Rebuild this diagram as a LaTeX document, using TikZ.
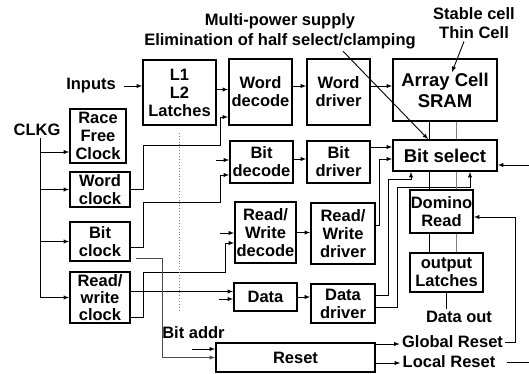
\documentclass[tikz,border=0pt]{standalone}
\usepackage{fontspec}
\setmainfont{Liberation Sans}
\usepackage{tikz}
\usetikzlibrary{positioning}

\begin{document}
\begin{tikzpicture}[>=latex, x=1pt, y=-1pt, line width=0.9pt, inner sep=2pt,
  font=\fontsize{16.5}{18}\selectfont\bfseries,
  blk/.style={draw, line width=1.8pt, inner sep=0pt, align=center},
  big/.style={font=\fontsize{18.5}{21}\selectfont\bfseries}] % pixel grid, y runs down
\useasboundingbox (0,0) rectangle (529,374);

\node (clkg) at (37,130) {CLKG};
\node (inputs) at (91,86) {Inputs};
\node (mps) [align=center, font=\fontsize{16.5}{20}\selectfont\bfseries] at (280,31) {Multi-power supply\\Elimination of half select/clamping};
\node (stab) [align=center, font=\fontsize{16.5}{19}\selectfont\bfseries] at (474,23.5) {Stable cell\\Thin Cell};

\node[blk, minimum width=73pt, minimum height=65pt] (latch) at (179.5,92.5) {L1\\L2\\Latches};
\node[blk, minimum width=56pt, minimum height=54pt] (race) at (98,136) {Race\\Free\\Clock};
\node[blk, minimum width=60pt, minimum height=35pt] (wclk) at (100,189.5) {Word\\clock};
\node[blk, minimum width=60pt, minimum height=39pt] (bclk) at (100,241.5) {Bit\\clock};
\node[blk, minimum width=60pt, minimum height=51pt, font=\fontsize{16.5}{17}\selectfont\bfseries] (rwclk) at (100,297.5) {Read/\\write\\clock};

\node[blk, minimum width=63pt, minimum height=66pt] (wdec) at (260.5,92) {Word\\decode};
\node[blk, minimum width=63pt, minimum height=66pt] (wdrv) at (338.5,92) {Word\\driver};
\node[blk, big, minimum width=104pt, minimum height=62pt] (array) at (445,90) {Array Cell\\SRAM};
\node[blk, minimum width=63pt, minimum height=42pt] (bdec) at (261.5,162) {Bit\\decode};
\node[blk, minimum width=63pt, minimum height=42pt] (bdrv) at (338.5,162) {Bit\\driver};
\node[blk, big, minimum width=104pt, minimum height=31pt] (bsel) at (445,155.5) {Bit select};
\node[blk, minimum width=61pt, minimum height=61pt] (rwdec) at (265.5,232.5) {Read/\\Write\\decode};
\node[blk, minimum width=64pt, minimum height=61pt] (rwdrv) at (343,233.5) {Read/\\Write\\driver};
\node[blk, minimum width=63pt, minimum height=28pt] (data) at (265.5,297) {Data};
\node[blk, minimum width=64pt, minimum height=39pt] (ddrv) at (343,303.5) {Data\\driver};
\node[blk, minimum width=63pt, minimum height=43pt] (domino) at (441.5,211.5) {Domino\\Read};
\node[blk, minimum width=73pt, minimum height=39pt] (olat) at (446.5,272.5) {output\\Latches};
\node[blk, minimum width=159pt, minimum height=29pt] (reset) at (295.5,357.5) {Reset};

\node (dout) at (459,317) {Data out};
\node (greset) at (452.5,342) {Global Reset};
\node (lreset) at (449,362) {Local Reset};
\node (baddr) at (193.5,333) {Bit addr};

\coordinate (edgeB) at (529,165);
\coordinate (edgeL) at (529,362);

% clock tree
\draw[->] ([xshift=3pt]clkg.south) |- ([yshift=-16pt]race.west);
\draw[->] ([xshift=3pt]clkg.south) |- (wclk.west);
\draw[->] ([xshift=3pt]clkg.south) |- (bclk.west);
\draw[->] ([xshift=3pt]clkg.south) |- (rwclk.west);

\draw[->] ([xshift=6pt]inputs.east) -- (inputs.east -| latch.west);
\draw[->] ([yshift=3pt]latch.east) -- ([yshift=3pt]latch.east -| wdec.west);
\draw[->] ([yshift=6pt]wdec.east) -- ([yshift=6pt]wdec.east -| wdrv.west);
\draw[->] ([yshift=6pt]wdrv.east) -- ([yshift=6pt]wdrv.east -| array.west);
\draw[->] (wclk.east) -| (143,145) -| (220,117) -- ([yshift=-25pt]wdec.west);

\draw[<-] ([yshift=2pt]bdec.west) -- ++(-13,0);
\draw[->] ([yshift=-6pt]bclk.east) -| (143,202) -| (220,175) -- ([yshift=-13pt]bdec.west);
\draw[->] ([yshift=3pt]bdec.east) -- ([yshift=3pt]bdec.east -| bdrv.west);
\draw[->] ([yshift=15pt]bdrv.east) -- ([yshift=15pt]bdrv.east -| bsel.west);

\draw[<-] ([yshift=-0.5pt]rwdec.west) -- ++(-14,0);
\draw[->] ([yshift=-20pt]rwclk.east) -| (143,272) -| (225,243) -- ([yshift=-10.5pt]rwdec.west);
\draw[->] (rwdec.east) -- (rwdec.east -| rwdrv.west);
\draw[->] ([yshift=8pt]rwdrv.east) -- ++(4,0) |- ([yshift=-3.5pt]bsel.west);

\draw[->] ([yshift=6pt]rwclk.east) -- ([yshift=6pt]rwclk.east -| data.west);
\draw[<-] ([yshift=-2pt]data.west) -- ++(-14,0);
\draw[->] (data.east) -- (data.east -| ddrv.west);
\draw[->] ([yshift=8.5pt]ddrv.east) -| (388,179) -| ([xshift=-34pt]bsel.south);
\draw[->] ([yshift=-3.5pt]ddrv.east) -| (397,187) -| ([xshift=25pt]bsel.south);

% cell column
\draw ([xshift=-16pt]array.south) -- ([xshift=-16pt]bsel.north);
\draw[gray] ([xshift=11pt]array.south) -- ([xshift=11pt]bsel.north);
\draw ([xshift=-16pt]bsel.south) -- ([xshift=-16pt]bsel.south |- domino.north);
\draw[gray] ([xshift=11pt]bsel.south) -- ([xshift=11pt]bsel.south |- domino.north);
\draw ([xshift=-12.5pt]domino.south) -- ([xshift=-12.5pt]domino.south |- olat.north);
\draw[gray] ([xshift=14.5pt]domino.south) -- ([xshift=14.5pt]domino.south |- olat.north);
\draw (olat.south) -- (olat.south |- dout.north);
\draw[->] (edgeB) -- (edgeB -| bsel.east);

% reset
\draw[->, black!70] ([xshift=5pt,yshift=-16.5pt]bclk.east) -- ++(27,0) |- (reset.west);
\draw[<-] ([yshift=8.5pt]reset.west) -- ++(-23,0);
\draw[->] ([yshift=13.5pt]reset.east) -- ([yshift=13.5pt]reset.east -| greset.west);
\draw[->] ([yshift=-5.5pt]reset.east) -- ([yshift=-5.5pt]reset.east -| lreset.west);
\draw[->] (greset.east) -- ++(10,0) |- ([yshift=-5.5pt]domino.east);
\draw ([xshift=9pt]lreset.east) -- (edgeL);

\draw[->] ([xshift=63pt]mps.south) -- ([xshift=-17pt]bsel.north);
\draw[->] ([xshift=-10pt]stab.south) -- ([xshift=7pt,yshift=-14pt]array.north);
\draw[dotted, gray] ([yshift=-7pt]latch.south) -- ++(0,177);

\end{tikzpicture}
\end{document}
